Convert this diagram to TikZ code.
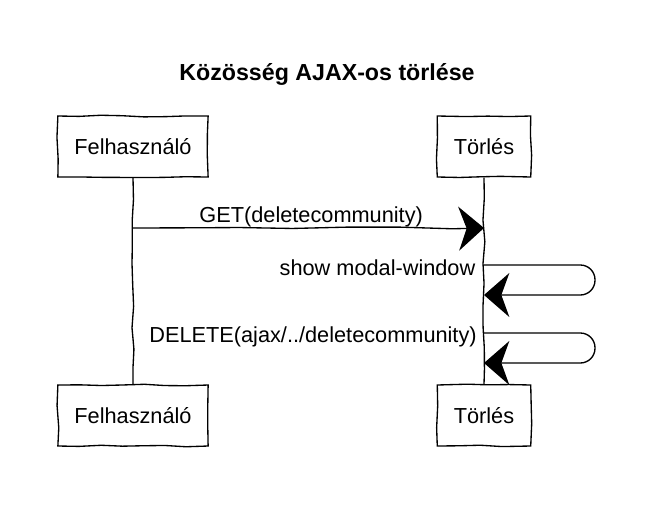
\documentclass[tikz,border=0pt]{standalone}
\usepackage{fontspec}
\setmainfont{Liberation Sans}
\usetikzlibrary{arrows.meta,calc,positioning,decorations.pathmorphing}
\tikzset{
node distance=201.75pt, % length of the lifelines. Change if necessary.
sketch/.style={decorate, decoration={random steps, segment length=16pt, amplitude=0.8pt}},
actor/.style={draw, fill=white, sketch, minimum height=45.75pt, inner xsep=12.4pt, font=\fontsize{16.3}{19}\selectfont},
msg/.style={-{Stealth[length=19pt,width=33pt,inset=6pt]}},
msgtext/.style={font=\fontsize{16.3}{19}\selectfont, inner sep=0pt},
}

\begin{document}
\begin{tikzpicture}[x=0.75pt,y=-0.75pt,on grid,line width=1pt]
		\pgfmathsetseed{11}
		\useasboundingbox (0,0) rectangle (664,504);
		\node[anchor=base, font=\bfseries\fontsize{17.4}{20}\selectfont] (title) at (327,80) {Közösség AJAX-os törlése};
		\node[actor] (u_0) at (133,146.5) {Felhasználó};
		\node[actor] (t_0) at (484,146.5) {Törlés};
		\node[actor] (u_1) [below=of u_0] {Felhasználó};
		\node[actor] (t_1) [below=of t_0] {Törlés};
		\draw[sketch] (u_0) -- (u_1);
		\draw[sketch] (t_0) -- (t_1);
		\coordinate (g_0) at (u_0 |- 0,228);
		\coordinate (g_1) at (t_0 |- 0,228);
		\coordinate (s_0) at (t_0 |- 0,265);
		\coordinate (s_1) at (t_0 |- 0,295);
		\coordinate (d_0) at (t_0 |- 0,333);
		\coordinate (d_1) at (t_0 |- 0,363);
		\draw[msg, decorate, decoration={random steps, segment length=40pt, amplitude=0.8pt}] (g_0) -- (g_1);
		\node[msgtext, anchor=base, xshift=2pt, yshift=4.5pt] (m_0) at ($(g_0)!0.5!(g_1)$) {GET(deletecommunity)};
		\draw[msg, rounded corners=11pt] (s_0) -- ++(111,0) |- (s_1);
		\draw[msg, rounded corners=11pt] (d_0) -- ++(111,0) |- (d_1);
		\node[msgtext, anchor=base east, xshift=-6pt, yshift=-7.5pt] (m_1) at (s_0) {show modal-window};
		\node[msgtext, anchor=base east, xshift=-5pt, yshift=-6.75pt] (m_2) at (d_0) {DELETE(ajax/../deletecommunity)};
\end{tikzpicture}
\end{document}
